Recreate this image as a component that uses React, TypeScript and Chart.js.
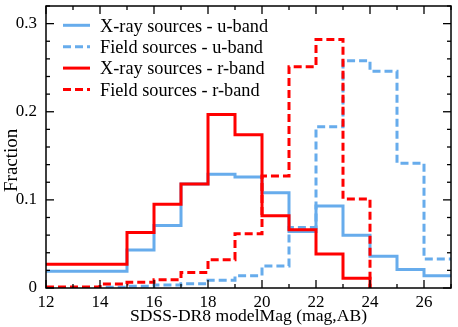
import React, { useEffect, useRef } from 'react';
import { Chart, registerables } from 'chart.js';

Chart.register(...registerables);

// ---- Data ----
const seriesLabels = [
  'X-ray sources - u-band',
  'Field sources - u-band',
  'X-ray sources - r-band',
  'Field sources - r-band',
];

// bin left edges; last edge closes the final bin
const xrayUEdges = [12, 15, 16, 17, 18, 19, 20, 21, 22, 23, 24, 25, 26, 27];
const xrayUValues = [0.019, 0.043, 0.071, 0.118, 0.129, 0.126, 0.108, 0.064, 0.093, 0.060, 0.036, 0.021, 0.014];

const fieldUEdges = [12, 13, 14, 15, 16, 17, 18, 19, 20, 21, 22, 23, 24, 25, 26, 27];
const fieldUValues = [0.0005, 0.0005, 0.0008, 0.0019, 0.0034, 0.0049, 0.0088, 0.014, 0.025, 0.0687, 0.183, 0.258, 0.246, 0.1416, 0.033];

const xrayREdges = [12, 15, 16, 17, 18, 19, 20, 21, 22, 23, 24];
const xrayRValues = [0.027, 0.063, 0.095, 0.118, 0.197, 0.174, 0.082, 0.066, 0.0385, 0.011];

const fieldREdges = [12, 13, 14, 15, 16, 17, 18, 19, 20, 21, 22, 23, 24];
const fieldRValues = [0.001, 0.001, 0.0045, 0.0064, 0.0094, 0.0177, 0.032, 0.0615, 0.127, 0.251, 0.282, 0.101];

const xTickValues = [12, 14, 16, 18, 20, 22, 24, 26];
const yTickValues = [0, 0.1, 0.2, 0.3];
const yTickLabels = ['0', '0.1', '0.2', '0.3'];

const xTitle = 'SDSS-DR8 modelMag (mag,AB)';
const yTitle = 'Fraction';

const BLUE = '#67acec';
const RED = '#ff0000';
const FONT = "'Liberation Serif', 'Times New Roman', serif";

function toSteps(edges: number[], values: number[], dropToZero: boolean) {
  const pts = values.map((v, i) => ({ x: edges[i], y: v }));
  pts.push({ x: edges[edges.length - 1], y: dropToZero ? 0 : values[values.length - 1] });
  return pts;
}

const framePlugin = {
  id: 'frameTicks',
  afterDatasetsDraw(chart: any) {
    const { ctx, chartArea, scales } = chart;
    const { left, right, top, bottom } = chartArea;
    const xs = scales.x;
    const ys = scales.y;
    ctx.save();
    ctx.setLineDash([]);
    ctx.strokeStyle = '#000';
    ctx.lineWidth = 1.5;
    ctx.strokeRect(left, top, right - left, bottom - top);
    ctx.lineWidth = 1.3;
    const seg = (x1: number, y1: number, x2: number, y2: number) => {
      ctx.beginPath();
      ctx.moveTo(x1, y1);
      ctx.lineTo(x2, y2);
      ctx.stroke();
    };
    for (let v = xs.min; v <= xs.max; v += 1) {
      const px = xs.getPixelForValue(v);
      const len = v % 2 === 0 ? 8 : 4;
      seg(px, bottom, px, bottom - len);
      seg(px, top, px, top + len);
    }
    for (let k = 0; k <= 16; k++) {
      const py = ys.getPixelForValue(k * 0.02);
      const len = k % 5 === 0 ? 8 : 4;
      seg(left, py, left + len, py);
      seg(right, py, right - len, py);
    }
    ctx.restore();
  },
};

const legendPlugin = {
  id: 'insideLegend',
  afterDraw(chart: any) {
    const { ctx } = chart;
    ctx.save();
    chart.data.datasets.forEach((ds: any, i: number) => {
      const yy = 25.3 + i * 21.4;
      ctx.strokeStyle = ds.borderColor;
      ctx.lineWidth = 3;
      ctx.setLineDash(ds.borderDash || []);
      ctx.beginPath();
      ctx.moveTo(63, yy);
      ctx.lineTo(90, yy);
      ctx.stroke();
      ctx.setLineDash([]);
      ctx.fillStyle = '#000';
      ctx.font = `18.3px ${FONT}`;
      ctx.textBaseline = 'alphabetic';
      ctx.textAlign = 'left';
      ctx.fillText(ds.label, 100, yy + 6.2);
    });
    // y-axis title, positioned as in the reference (centred lower than the axis)
    ctx.translate(12.5, 160.3);
    ctx.rotate(-Math.PI / 2);
    ctx.font = `19px ${FONT}`;
    ctx.fillStyle = '#000';
    ctx.textAlign = 'center';
    ctx.textBaseline = 'middle';
    ctx.fillText(yTitle, 0, 0);
    ctx.restore();
  },
};

export default function App() {
  const canvasRef = useRef<HTMLCanvasElement | null>(null);

  useEffect(() => {
    if (!canvasRef.current) return;
    const chart = new Chart(canvasRef.current, {
      type: 'line',
      data: {
        datasets: [
          {
            label: seriesLabels[0],
            data: toSteps(xrayUEdges, xrayUValues, false),
            borderColor: BLUE,
            borderWidth: 3,
            stepped: 'before',
            pointRadius: 0,
            fill: false,
            order: 1,
          },
          {
            label: seriesLabels[1],
            data: toSteps(fieldUEdges, fieldUValues, false),
            borderColor: BLUE,
            borderWidth: 3,
            borderDash: [8, 4],
            stepped: 'before',
            pointRadius: 0,
            fill: false,
            order: 1,
          },
          {
            label: seriesLabels[2],
            data: toSteps(xrayREdges, xrayRValues, true),
            borderColor: RED,
            borderWidth: 3,
            stepped: 'before',
            pointRadius: 0,
            fill: false,
            order: 0,
          },
          {
            label: seriesLabels[3],
            data: toSteps(fieldREdges, fieldRValues, true),
            borderColor: RED,
            borderWidth: 3,
            borderDash: [8, 4],
            stepped: 'before',
            pointRadius: 0,
            fill: false,
            order: 0,
          },
        ],
      },
      options: {
        animation: false,
        responsive: false,
        maintainAspectRatio: false,
        layout: { padding: { left: 0, right: 7, top: 6, bottom: 0 } },
        plugins: {
          legend: { display: false },
          tooltip: { enabled: false },
        },
        scales: {
          x: {
            type: 'linear',
            min: 12,
            max: 27,
            grid: { display: false, drawTicks: false },
            border: { display: false },
            afterBuildTicks: (s: any) => {
              s.ticks = xTickValues.map((v) => ({ value: v }));
            },
            afterFit: (s: any) => {
              s.height = 39;
              s.paddingLeft = 0;
              s.paddingRight = 0;
            },
            ticks: {
              font: { family: FONT, size: 17 },
              color: '#000',
              padding: 4,
              maxRotation: 0,
              autoSkip: false,
              callback: (v: any) => String(v),
            },
            title: {
              display: true,
              text: xTitle,
              font: { family: FONT, size: 17.6 },
              color: '#000',
              padding: { top: 0, bottom: 0 },
            },
          },
          y: {
            type: 'linear',
            min: 0,
            max: 0.32,
            grid: { display: false, drawTicks: false },
            border: { display: false },
            afterBuildTicks: (s: any) => {
              s.ticks = yTickValues.map((v) => ({ value: v }));
            },
            afterFit: (s: any) => {
              s.width = 46;
              s.paddingTop = 0;
              s.paddingBottom = 0;
            },
            ticks: {
              font: { family: FONT, size: 17 },
              color: '#000',
              padding: 9,
              autoSkip: false,
              callback: (v: any) => {
                const i = yTickValues.indexOf(v);
                return i >= 0 ? yTickLabels[i] : '';
              },
            },
            title: { display: false },
          },
        },
      },
      plugins: [framePlugin, legendPlugin],
    } as any);
    return () => chart.destroy();
  }, []);

  return (
    <div style={{ position: 'fixed', left: 0, top: 0, width: 458, height: 327, background: '#fff' }}>
      <canvas ref={canvasRef} width={458} height={327} style={{ display: 'block' }} />
    </div>
  );
}
